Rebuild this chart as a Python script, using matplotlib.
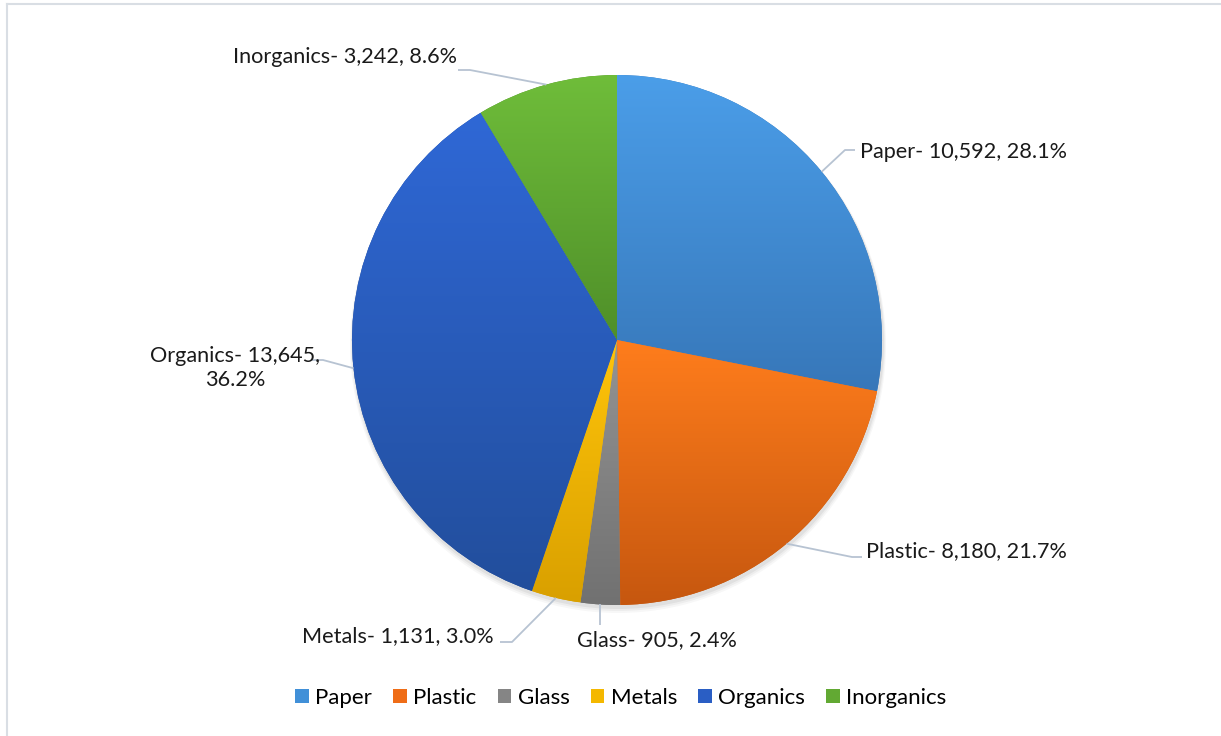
import numpy as np
import matplotlib
matplotlib.use('Agg')
import matplotlib.pyplot as plt
from matplotlib.patches import Patch
from matplotlib.lines import Line2D
from matplotlib.colors import to_rgb

# Waste composition data
categories = ['Paper', 'Plastic', 'Glass', 'Metals', 'Organics', 'Inorganics']
amounts = [10592, 8180, 905, 1131, 13645, 3242]
shares = [28.1, 21.7, 2.4, 3.0, 36.2, 8.6]

# gradient colours (top, bottom) per slice, Excel style
grad_top = ['#4b9ee9', '#ff7d1c', '#949494', '#ffc40a', '#2f68d6', '#6fbd3a']
grad_bot = ['#3777b9', '#c6570f', '#717171', '#d9a000', '#224e9c', '#4f8f29']

W, H = 1221, 736
fig = plt.figure(figsize=(W / 100, H / 100), dpi=100)
ax = fig.add_axes([0, 0, 1, 1])

cx, cy, R = 617, H - 340, 265

# soft shadow under the pie
for k, a in enumerate([0.05, 0.04, 0.03]):
    sh = plt.Circle((cx + 1, cy - 3 - k), R + 1 + k, color='black', alpha=a, lw=0, zorder=0)
    ax.add_patch(sh)

wedges, _ = ax.pie(amounts, startangle=90, counterclock=False, center=(cx, cy),
                   radius=R, colors=grad_bot, wedgeprops=dict(linewidth=0))

# paint a vertical gradient inside every wedge
for w, ct, cb in zip(wedges, grad_top, grad_bot):
    v = w.get_path().vertices
    x0, x1 = v[:, 0].min(), v[:, 0].max()
    y0, y1 = v[:, 1].min(), v[:, 1].max()
    t = np.linspace(0, 1, 256)[:, None]
    img = (1 - t) * np.array(to_rgb(cb)) + t * np.array(to_rgb(ct))
    im = ax.imshow(img[:, None, :], extent=[x0, x1, y0, y1], origin='lower',
                   aspect='auto', zorder=2, interpolation='bilinear')
    im.set_clip_path(w)

ax.set_xlim(0, W)
ax.set_ylim(0, H)
ax.set_aspect('auto')
ax.axis('off')

# label layout: (text x, text y, ha, elbow x) in pixel coords from top-left
label_pos = [
    (860, 152, 'left', 845),
    (866, 551, 'left', 852),
    (577, 640, 'left', None),
    (494, 636, 'right', 512),
    (235, 368, 'center', 323),
    (345, 57, 'center', 470),
]
lead_end = [(855, 150), (862, 557), (601, 625), (500, 642), (312, 360), (458, 70)]

lead_col = '#b7c3d2'
font = 'Lato'
cum = 0
for i, name in enumerate(categories):
    frac = amounts[i] / sum(amounts)
    mid = np.deg2rad(90 - 360 * (cum + frac / 2))
    cum += frac
    ex, ey = cx + R * np.cos(mid), cy + R * np.sin(mid)
    tx, ty, ha, elbow = label_pos[i]
    lx, ly = lead_end[i]
    if elbow is None:
        xs, ys = [ex, ex], [ey, H - ly]
    else:
        xs, ys = [ex, elbow, lx], [ey, H - ly, H - ly]
    ax.plot(xs, ys, color=lead_col, lw=1.3, zorder=3, solid_capstyle='butt')
    if name == 'Organics':
        txt = f'{name}- {amounts[i]:,},\n{shares[i]:.1f}%'
    else:
        txt = f'{name}- {amounts[i]:,}, {shares[i]:.1f}%'
    ax.text(tx, H - ty, txt, ha=ha, va='center', fontsize=15.6, family=font,
            color='#1a1a1a', linespacing=1.3, zorder=4)

# legend
handles = [Patch(facecolor=c, edgecolor='none') for c in
           ['#4190d8', '#ef6d17', '#858585', '#f4b800', '#2a5ec4', '#62a933']]
fig.legend(handles, categories, loc='center', bbox_to_anchor=(621 / W, 1 - 698 / H),
           ncol=6, frameon=False, handlelength=0.6, handleheight=0.6,
           handletextpad=0.3, columnspacing=0.95, prop={'family': font, 'size': 16})

# chart area border (partly cropped in the original)
bc = '#d9dee4'
fig.add_artist(Line2D([7.5 / W, 1], [1 - 3.5 / H, 1 - 3.5 / H], color=bc, lw=1.5))
fig.add_artist(Line2D([7.5 / W, 7.5 / W], [0, 1 - 3.5 / H], color=bc, lw=1.5))

fig.savefig('out.png', dpi=100, facecolor='white')
